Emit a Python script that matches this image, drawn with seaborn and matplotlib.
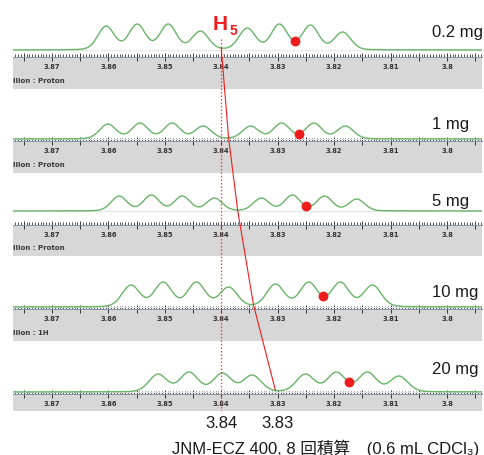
import numpy as np
import matplotlib
matplotlib.use("Agg")
import matplotlib.pyplot as plt
import seaborn as sns
from matplotlib.transforms import blended_transform_factory
from matplotlib.lines import Line2D
from matplotlib.ticker import MultipleLocator, FuncFormatter

sns.set_style("white")
plt.rcParams['font.family'] = ['Liberation Sans', 'Noto Sans CJK JP', 'DejaVu Sans']

# ---------------- data ----------------
amounts = ["0.2 mg", "1 mg", "5 mg", "10 mg", "20 mg"]

peaks_02mg = [3.8604, 3.8549, 3.8494, 3.8437, 3.8354, 3.8297, 3.8242, 3.8185]
heights_02mg = [24, 26, 26, 19, 22, 26, 25, 18]
peaks_1mg = [3.8601, 3.8544, 3.8487, 3.8432, 3.8348, 3.8293, 3.8236, 3.8180]
heights_1mg = [15, 16, 16, 13, 13, 16, 16, 13]
peaks_5mg = [3.8581, 3.8524, 3.8469, 3.8412, 3.8329, 3.8274, 3.8217, 3.8160]
heights_5mg = [15, 16, 15, 13, 13, 16, 15, 12]
peaks_10mg = [3.8560, 3.8503, 3.8444, 3.8387, 3.8304, 3.8245, 3.8189, 3.8132]
heights_10mg = [22, 25, 25, 20, 23, 25, 25, 22]
peaks_20mg = [3.8512, 3.8457, 3.8398, 3.8345, 3.8251, 3.8196, 3.8141, 3.8085]
heights_20mg = [18, 20, 19, 17, 18, 20, 20, 16]
line_widths_ppm = [0.00145, 0.00145, 0.0014, 0.00156, 0.00159]

h5_ppm = [3.8400, 3.8387, 3.8371, 3.8343, 3.8304]
dot_ppm = [3.8270, 3.8263, 3.8249, 3.8219, 3.8174]
ref_ppm = [3.84, 3.83]
ref_labels = ["3.84", "3.83"]
nucleus_labels = ["llion : Proton", "llion : Proton", "llion : Proton", "llion : 1H", ""]
footer = "JNM-ECZ 400, 8 回積算\u3000(0.6 mL CDCl\u2083)"

peak_sets = [peaks_02mg, peaks_1mg, peaks_5mg, peaks_10mg, peaks_20mg]
height_sets = [heights_02mg, heights_1mg, heights_5mg, heights_10mg, heights_20mg]

# ---------------- layout ----------------
W, H = 485, 456
fig = plt.figure(figsize=(W / 100, H / 100), dpi=100)
fig.patch.set_facecolor("white")

def fx(px):
    return px / W

def fy(px):
    return 1 - px / H

left_px, right_px = 13, 482
axis_y = [58, 142, 226, 310, 395]
band_bottom = [90, 174, 257, 342, 412]
base_offset = [7, 2, 14, 2, 2]
label_y = [33, 125, 202, 293, 370]
spec_h = 46
xlim = (3.8769, 3.7938)
grid = np.linspace(xlim[0], xlim[1], 1500)

GREEN = "#68b468"
RED = "#ee1c1c"
ETA = 0.15  # lorentzian fraction of the line shape


def shape(x, x0, s):
    g = np.exp(-0.5 * ((x - x0) / s) ** 2)
    l = 1.0 / (1.0 + ((x - x0) / (1.1774 * s)) ** 2)
    return (1 - ETA) * g + ETA * l


def make_spectrum(peaks, heights, s):
    p = np.array(peaks)
    M = shape(p[:, None], p[None, :], s)
    amps = np.linalg.solve(M, np.array(heights, dtype=float))
    def f(x):
        x = np.atleast_1d(x)
        return (amps[None, :] * shape(x[:, None], p[None, :], s)).sum(axis=1)
    return f


fmt = FuncFormatter(lambda v, p: f"{round(v, 3):g}" if abs(v * 100 - round(v * 100)) < 1e-6 else "")

axes = []
funcs = []
for i in range(5):
    bax = fig.add_axes([fx(left_px), fy(band_bottom[i]), fx(right_px - left_px),
                        (band_bottom[i] - axis_y[i]) / H])
    bax.set_facecolor("#d7d7d7")
    for s in bax.spines.values():
        s.set_visible(False)
    bax.set_xticks([])
    bax.set_yticks([])
    bax.set_zorder(0)
    if nucleus_labels[i]:
        bax.text(0.0, 0.28, nucleus_labels[i], transform=bax.transAxes, fontsize=5.0,
                 family="DejaVu Sans", fontweight="bold", color="#3a3a3a",
                 ha="left", va="center")

    ax = fig.add_axes([fx(left_px), fy(axis_y[i]), fx(right_px - left_px), spec_h / H])
    ax.set_zorder(2)
    ax.patch.set_alpha(0)
    f = make_spectrum(peak_sets[i], height_sets[i], line_widths_ppm[i])
    funcs.append(f)
    ax.axhline(0, color="#e4e4e4", lw=0.8, zorder=1)
    sns.lineplot(x=grid, y=f(grid), ax=ax, color=GREEN, linewidth=1.0, zorder=3)
    sns.scatterplot(x=[dot_ppm[i]], y=f(dot_ppm[i]), ax=ax, color=RED, s=50,
                    linewidth=0, zorder=6, clip_on=False)
    ax.set_xlim(xlim)
    ax.set_ylim(-base_offset[i], spec_h - base_offset[i])
    for s in ["top", "left", "right"]:
        ax.spines[s].set_visible(False)
    ax.spines["bottom"].set_color("#8595a8")
    ax.spines["bottom"].set_linewidth(0.7)
    ax.set_yticks([])
    ax.xaxis.set_major_locator(MultipleLocator(0.005))
    ax.xaxis.set_minor_locator(MultipleLocator(0.0005))
    ax.xaxis.set_major_formatter(fmt)
    ax.tick_params(axis="x", which="major", direction="inout", length=6, width=0.7,
                   color="#333333", labelsize=4.9, labelcolor="#333333", pad=1.5, bottom=True)
    ax.tick_params(axis="x", which="minor", direction="in", length=2.5, width=0.6,
                   color="#333333", bottom=True)
    for lab in ax.get_xticklabels():
        lab.set_family("DejaVu Sans")
        lab.set_fontweight("bold")
    ax.set_xlabel("")
    ax.set_ylabel("")
    axes.append(ax)

    fig.text(fx(432), fy(label_y[i]), amounts[i], ha="left", va="center",
             fontsize=12, color="#1a1a1a")

bt = blended_transform_factory(axes[0].transData, fig.transFigure)

# red dotted reference line at 3.84
fig.add_artist(Line2D([ref_ppm[0], ref_ppm[0]], [fy(40), fy(412)], transform=bt,
                      color="#ff3a3a", lw=0.9, ls=(0, (1.2, 1.6)), zorder=5))

# red solid line following H5
to_fig = fig.transFigure.inverted()
pts = []
for i in range(5):
    disp = axes[i].transData.transform((h5_ppm[i], float(funcs[i](h5_ppm[i])[0])))
    pts.append(to_fig.transform(disp))
pts = np.array(pts)
fig.add_artist(Line2D(pts[:, 0], pts[:, 1], transform=fig.transFigure,
                      color=RED, lw=0.8, zorder=5))

# H5 label
fig.text(fx(213), fy(30), "H", color=RED, fontsize=15, fontweight="bold",
         ha="left", va="baseline")
fig.text(fx(230), fy(35), "5", color=RED, fontsize=10, fontweight="bold",
         ha="left", va="baseline")

# reference ppm labels under the stack
for p, lab in zip(ref_ppm, ref_labels):
    fig.text(p, fy(424), lab, transform=bt, ha="center", va="center",
             fontsize=12, color="#1a1a1a")

fig.text(fx(326), fy(448), footer, ha="center", va="center", fontsize=12, color="#1a1a1a")

fig.savefig("out.png", dpi=100, facecolor="white")
